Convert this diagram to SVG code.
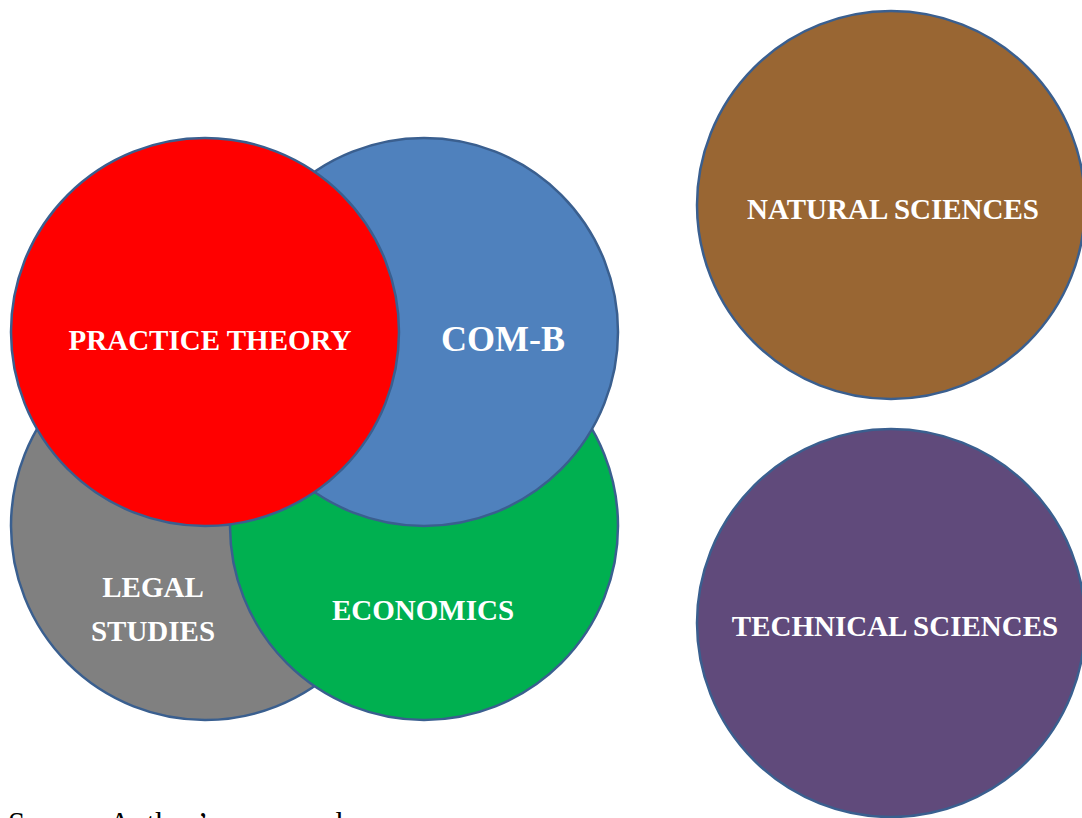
<svg xmlns="http://www.w3.org/2000/svg" width="1082" height="818" viewBox="0 0 1082 818">
<style>
.c{stroke:#3A5F8F;stroke-width:2.5}
.t{font-family:"Liberation Serif","Times New Roman",serif;font-weight:bold;fill:#fff;font-size:29px;text-anchor:middle}
.src{font-family:"Liberation Serif","Times New Roman",serif;font-size:31px;fill:#000}
</style>
<rect width="1082" height="818" fill="#fff"/>
<g id="legal-studies"><circle class="c" cx="205" cy="526" r="194" fill="#808080"/><text class="t" x="153" y="597">LEGAL</text><text class="t" x="153" y="641">STUDIES</text></g>
<g id="economics"><circle class="c" cx="424" cy="526" r="194" fill="#00B050"/><text class="t" x="423" y="620">ECONOMICS</text></g>
<g id="com-b"><circle class="c" cx="424" cy="332" r="194" fill="#4F81BD"/><text class="t" x="503" y="351" style="font-size:36px">COM-B</text></g>
<g id="practice-theory"><circle class="c" cx="205" cy="332" r="194" fill="#FF0000"/><text class="t" x="210" y="350">PRACTICE THEORY</text></g>
<g id="natural-sciences"><circle class="c" cx="891" cy="205" r="194" fill="#996633"/><text class="t" x="893" y="219">NATURAL SCIENCES</text></g>
<g id="technical-sciences"><circle class="c" cx="891" cy="623" r="194" fill="#604A7B"/><text class="t" x="895" y="636">TECHNICAL SCIENCES</text></g>
<g id="connectors"/>
<text class="src" x="8" y="834">Source: Author’s own work</text>
</svg>
